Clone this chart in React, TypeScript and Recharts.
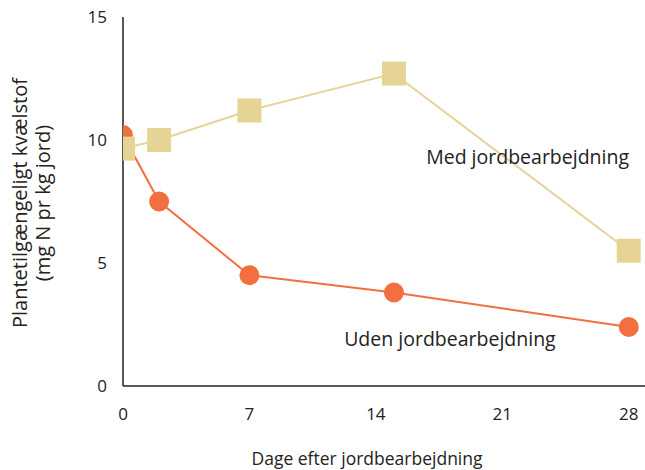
import React from 'react';
import { LineChart, Line, XAxis, YAxis, ReferenceDot, Label } from 'recharts';

const days = [0, 2, 7, 15, 28];
const udenValues = [10.2, 7.5, 4.5, 3.8, 2.4];
const medValues = [9.65, 10.0, 11.2, 12.7, 5.5];
const xTicks = [0, 7, 14, 21, 28];
const yTicks = [0, 5, 10, 15];

const udenData = days.map((d, i) => ({ x: d, y: udenValues[i] }));
const medData = days.map((d, i) => ({ x: d, y: medValues[i] }));

const ORANGE = '#F26F3F';
const YELLOW = '#E6D496';
const TEXT = '#222';
const FONT = '"Open Sans", "Noto Sans", sans-serif';

const Square = (props: any) => {
  const { cx, cy } = props;
  if (cx == null || cy == null) return null;
  return <rect x={cx - 12} y={cy - 12} width={24} height={24} fill={YELLOW} />;
};

const YLabel = () => {
  const cy = 203;
  return (
    <g>
      <text x={19} y={cy} transform={`rotate(-90, 19, ${cy})`} textAnchor="middle" dominantBaseline="central" fontSize={20} fill={TEXT} fontFamily={FONT}>
        Plantetilgængeligt kvælstof
      </text>
      <text x={42} y={cy} transform={`rotate(-90, 42, ${cy})`} textAnchor="middle" dominantBaseline="central" fontSize={20} fill={TEXT} fontFamily={FONT}>
        (mg N pr kg jord)
      </text>
    </g>
  );
};

export default function App() {
  return (
    <div style={{ position: 'absolute', left: 0, top: 0, background: '#fff' }}>
      <LineChart width={645} height={470} margin={{ top: 17, right: 0, bottom: 54, left: 83 }}>
        <XAxis
          type="number"
          dataKey="x"
          domain={[0, 28.9]}
          ticks={xTicks}
          allowDataOverflow
          tickLine={false}
          tickSize={0}
          tickMargin={22}
          axisLine={{ stroke: TEXT, strokeWidth: 1.5 }}
          tick={{ fontSize: 17, fill: TEXT, fontFamily: FONT }}
        >
          <Label value="Dage efter jordbearbejdning" position="insideBottom" offset={-49} dx={-17} fontSize={17.5} fill={TEXT} fontFamily={FONT} />
        </XAxis>
        <YAxis
          type="number"
          dataKey="y"
          domain={[0, 15]}
          ticks={yTicks}
          width={40}
          tickLine={false}
          tickSize={0}
          tickMargin={16}
          axisLine={{ stroke: TEXT, strokeWidth: 1.5 }}
          tick={{ fontSize: 17, fill: TEXT, fontFamily: FONT }}
        >
          <Label content={<YLabel />} />
        </YAxis>
        <Line
          data={udenData}
          dataKey="y"
          stroke={ORANGE}
          strokeWidth={2}
          dot={{ r: 10, fill: ORANGE, stroke: 'none' }}
          activeDot={false}
          isAnimationActive={false}
        />
        <Line
          data={medData}
          dataKey="y"
          stroke={YELLOW}
          strokeWidth={2}
          dot={<Square />}
          activeDot={false}
          isAnimationActive={false}
        />
        <ReferenceDot x={22.4} y={9.3} r={0} fill="none" stroke="none" ifOverflow="visible">
          <Label value="Med jordbearbejdning" position="center" fontSize={19.5} fill={TEXT} fontFamily={FONT} />
        </ReferenceDot>
        <ReferenceDot x={18.1} y={1.91} r={0} fill="none" stroke="none" ifOverflow="visible">
          <Label value="Uden jordbearbejdning" position="center" fontSize={19.5} fill={TEXT} fontFamily={FONT} />
        </ReferenceDot>
      </LineChart>
    </div>
  );
}
